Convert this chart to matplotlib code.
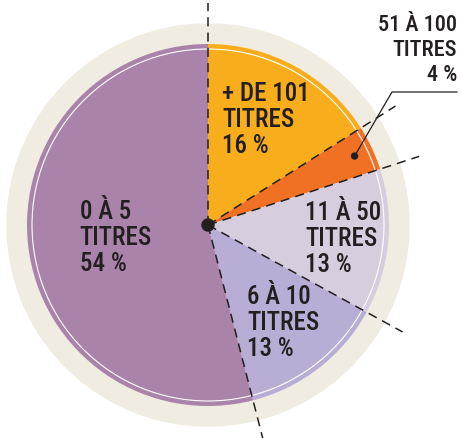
import numpy as np
import matplotlib.pyplot as plt
from matplotlib.patches import Circle

# Répartition par nombre de titres
categories = ['+ DE 101\nTITRES', '51 À 100\nTITRES', '11 À 50\nTITRES', '6 À 10\nTITRES', '0 À 5\nTITRES']
parts = [16, 4, 13, 13, 54]
couleurs = ['#F8AE1C', '#F07024', '#D6CEDF', '#B8AED5', '#A983A9']
# distance du texte au centre, par part (None = étiquette extérieure)
rayon_texte = [121, None, 136, 123, 93]

encre = '#231F20'
police = ['Roboto Condensed', 'DejaVu Sans Condensed', 'Roboto', 'DejaVu Sans']

W, H = 461, 439
cx, cy = 208, H - 226
R = 181

fig = plt.figure(figsize=(W / 100, H / 100), dpi=100)
ax = fig.add_axes([0, 0, 1, 1])

# anneau beige autour du camembert
ax.add_patch(Circle((cx, cy), 201, color='#F0ECE1', zorder=0))

wedges, _ = ax.pie(parts, colors=couleurs, startangle=90, counterclock=False,
                   center=(cx, cy), radius=R, wedgeprops=dict(linewidth=0))
for w in wedges:
    w.set_zorder(1)

# filet blanc intérieur
ax.add_patch(Circle((cx, cy), 176, fill=False, edgecolor='white', linewidth=0.8, zorder=2))

# traits pointillés sur les limites des parts
bornes = 90 - 360 * np.concatenate([[0], np.cumsum(parts)[:-1]]) / sum(parts)
for a in bornes:
    t = np.radians(a)
    ax.plot([cx, cx + 222 * np.cos(t)], [cy, cy + 222 * np.sin(t)],
            color=encre, linewidth=1.1, linestyle=(0, (6, 4)), zorder=3)

ax.add_patch(Circle((cx, cy), 6, color=encre, zorder=5))

# étiquettes
milieux = bornes - 180 * np.array(parts) / sum(parts)
for cat, p, r, m in zip(categories, parts, rayon_texte, milieux):
    texte = f'{cat}\n{p} %'
    t = np.radians(m)
    if r is None:
        # part trop petite : renvoi vers l'extérieur
        px, py = cx + 162 * np.cos(t), cy + 162 * np.sin(t)
        ax.plot([px, 392, 457], [py, H - 93, H - 93], color=encre, linewidth=0.9, zorder=4)
        ax.add_patch(Circle((px, py), 3, color=encre, zorder=5))
        ax.text(457, H - 50, texte, ha='right', va='center', multialignment='right',
                fontsize=16, linespacing=1.15, color=encre, family=police,
                fontstretch='condensed', fontweight='medium', zorder=6)
    else:
        ax.text(cx + r * np.cos(t), cy + r * np.sin(t), texte, ha='center', va='center',
                multialignment='left', fontsize=18, linespacing=1.1, color=encre,
                family=police, fontstretch='condensed', fontweight='medium', zorder=6)

ax.set_xlim(0, W)
ax.set_ylim(0, H)
ax.set_aspect('equal')
ax.axis('off')

fig.savefig('out.png', dpi=100, facecolor='white')
